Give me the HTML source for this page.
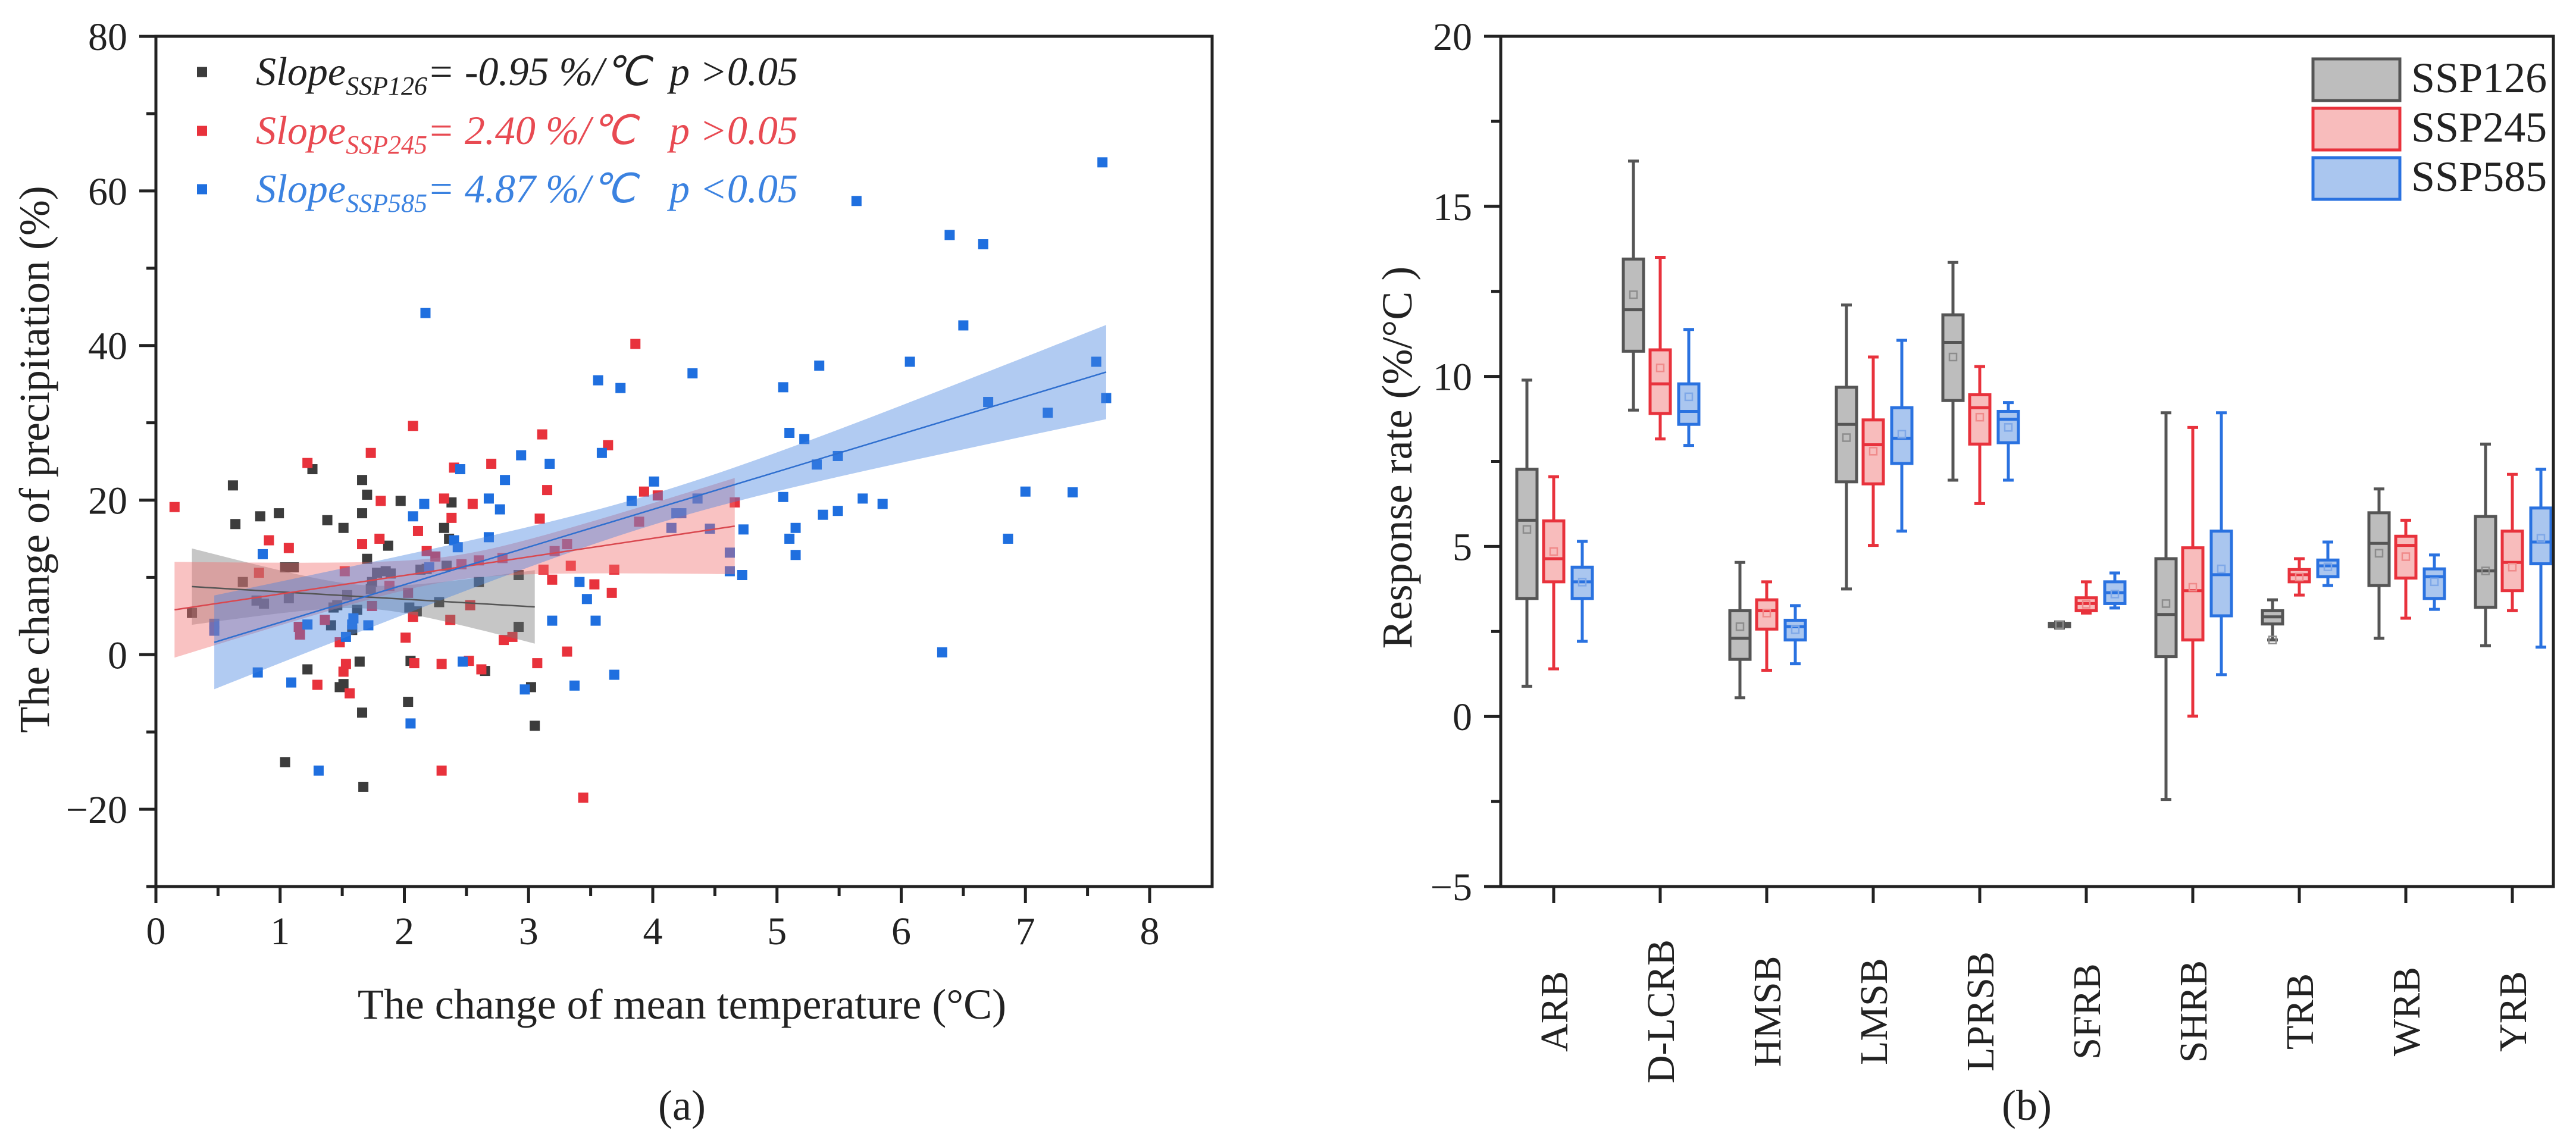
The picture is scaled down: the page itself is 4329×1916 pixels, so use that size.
<!DOCTYPE html>
<html><head><meta charset="utf-8"><style>
html,body{margin:0;padding:0;background:#fff;}
svg{display:block;font-family:"Liberation Serif",serif;}
</style></head><body>
<svg id="fig" width="4329" height="1916" viewBox="0 0 4329 1916" xmlns="http://www.w3.org/2000/svg">
<g id="pa"></g>
<g id="pb"></g>
</svg>
<script>
// ---------- Panel (a) data ----------
const ssp126X=[0.29,0.62,0.64,0.70,0.81,0.84,0.87,0.99,1.04,1.04,1.07,1.11,1.26,1.22,1.38,1.41,1.43,1.46,1.48,1.51,1.51,1.54,1.58,1.62,1.64,1.66,1.66,1.66,1.70,1.70,1.67,1.73,1.74,1.78,1.85,1.87,1.89,1.97,2.03,2.04,2.05,2.10,2.13,2.18,2.28,2.32,2.34,2.36,2.38,2.60,2.65,2.92,2.92,3.02,3.05];
const ssp126Y=[5.4,21.9,16.9,9.4,7.0,17.9,6.6,18.3,11.3,-13.9,7.3,11.3,24.0,-1.9,17.4,3.8,6.1,6.4,-4.2,16.4,-3.8,7.7,3.2,5.8,-0.9,-7.5,22.6,18.3,12.4,20.7,-17.1,8.5,9.4,10.6,10.8,14.1,10.5,19.9,-6.1,6.1,-0.8,5.6,11.0,11.1,6.8,16.4,11.5,15.0,19.7,9.4,-2.1,10.3,3.6,-4.2,-9.2];
const ssp245X=[0.15,0.83,0.91,1.07,1.15,1.16,1.22,1.30,1.36,1.48,1.51,1.53,1.56,1.52,1.66,1.73,1.74,1.80,1.81,1.88,2.01,2.07,2.07,2.08,2.11,2.18,2.25,2.30,2.30,2.32,2.37,2.38,2.40,2.46,2.52,2.53,2.55,2.60,2.62,2.70,2.79,2.80,2.87,3.07,3.09,3.11,3.12,3.15,3.19,3.21,3.31,3.31,3.34,3.44,3.53,3.64,3.67,3.69,3.86,3.89,3.93,4.04,4.66,2.03];
const ssp245Y=[19.1,10.6,14.8,13.8,3.6,2.6,24.8,-3.9,4.5,1.6,-2.2,-1.2,-5.0,10.8,14.3,26.1,6.3,15.0,19.9,8.9,2.2,29.6,4.9,-1.1,16.0,13.4,12.7,-15.0,-1.2,20.2,4.5,17.7,24.2,11.7,-0.8,6.4,19.5,12.2,-1.9,24.7,12.5,1.9,2.3,-1.1,17.6,28.5,11.0,21.3,9.7,13.4,14.3,0.4,11.5,-18.5,9.1,27.1,8.0,11.0,40.2,17.2,21.1,20.6,19.7,8.0];
const ssp585X=[0.47,0.47,0.82,0.86,1.09,1.22,1.31,1.53,1.58,1.59,1.71,2.05,2.07,2.16,2.17,2.20,2.40,2.43,2.45,2.47,2.68,2.68,2.77,2.81,2.94,2.97,3.17,3.19,3.37,3.41,3.47,3.54,3.56,3.59,3.69,3.74,3.83,4.01,4.15,4.19,4.23,4.32,4.36,4.46,4.62,4.62,4.72,4.73,5.05,5.05,5.10,5.10,5.15,5.15,5.22,5.32,5.34,5.37,5.49,5.49,5.64,5.69,5.85,6.07,6.33,6.39,6.50,6.66,6.70,6.86,7.00,7.18,7.38,7.57,7.62,7.65];
const ssp585Y=[4.0,3.1,-2.3,13.0,-3.6,3.9,-15.0,2.3,3.9,4.7,3.8,-8.9,17.9,19.5,44.2,11.3,14.8,13.9,24.0,-0.9,20.2,15.2,18.8,22.6,25.8,-4.5,24.7,4.4,-4.0,9.4,7.2,4.4,35.5,26.1,-2.6,34.5,19.9,22.4,16.4,18.3,18.3,36.4,20.2,16.3,13.2,10.8,10.3,16.2,20.4,34.6,28.7,15.0,16.4,12.9,27.9,24.6,37.4,18.1,18.6,25.7,58.7,20.2,19.5,37.9,0.3,54.3,42.6,53.1,32.7,15.0,21.1,31.3,21.0,37.9,63.7,33.2];
// regression: [xmin, xmax, slope, intercept, xbar, minHalfWidth, spreadK]
const fit126=[0.29,3.05,-0.95,9.08,1.70,1.5,3.34];
const fit245=[0.15,4.66,2.40,5.45,2.40,1.6,2.66];
const fit585=[0.47,7.65,4.87,-0.69,4.05,2.0,1.60];
const xTicksA=[0,1,2,3,4,5,6,7,8];
const yTicksA=[-20,0,20,40,60,80];

// ---------- Panel (b) data ----------
const basins=["ARB","D-LCRB","HMSB","LMSB","LPRSB","SFRB","SHRB","TRB","WRB","YRB"];
// [whiskerMin, Q1, median, Q3, whiskerMax, mean]
const box126=[[0.89,3.47,5.77,7.27,9.89,5.5],[9.01,10.74,11.96,13.45,16.33,12.4],[0.55,1.68,2.30,3.11,4.53,2.64],[3.75,6.90,8.59,9.68,12.1,8.2],[6.95,9.29,11.0,11.81,13.35,10.57],[2.60,2.64,2.68,2.74,2.78,2.70],[-2.44,1.76,3.0,4.64,8.93,3.32],[2.25,2.72,2.93,3.11,3.43,2.25],[2.30,3.85,5.09,5.99,6.69,4.8],[2.08,3.21,4.28,5.88,8.01,4.28]];
const box245=[[1.40,3.96,4.64,5.75,7.05,4.85],[8.16,8.91,9.78,10.78,13.5,10.25],[1.36,2.57,3.11,3.43,3.96,3.04],[5.03,6.84,7.99,8.72,10.57,7.8],[6.26,8.01,9.08,9.46,10.29,8.8],[3.04,3.11,3.32,3.49,3.96,3.3],[0.01,2.25,3.70,4.96,8.5,3.8],[3.57,3.96,4.17,4.32,4.64,4.1],[2.89,4.07,5.03,5.30,5.77,4.7],[3.11,3.70,4.53,5.45,7.12,4.39]];
const box585=[[2.21,3.47,3.96,4.39,5.15,3.95],[7.97,8.59,8.97,9.78,11.38,9.4],[1.55,2.25,2.64,2.83,3.26,2.55],[5.45,7.44,8.18,9.08,11.06,8.3],[6.95,8.05,8.74,8.97,9.23,8.5],[3.19,3.32,3.64,3.96,4.22,3.6],[1.23,2.96,4.17,5.45,8.93,4.34],[3.85,4.11,4.43,4.60,5.13,4.4],[3.15,3.47,4.11,4.34,4.75,3.96],[2.04,4.49,5.13,6.13,7.27,5.24]];
const yTicksB=[-5,0,5,10,15,20];
const seriesNames=["SSP126","SSP245","SSP585"];

const NS="http://www.w3.org/2000/svg";
function mk(parent,tag,attrs,text){const e=document.createElementNS(NS,tag);for(const k in attrs)e.setAttribute(k,attrs[k]);if(text!==undefined)e.textContent=text;parent.appendChild(e);return e;}

// ===== Panel A =====
(function(){
const g=document.getElementById('pa');
const L=262,R=2037,T=61,B=1490;
const xS=v=>L+v*208.75;
const yS=v=>B-(v+30)*12.99;
const sets=[[ssp126X,ssp126Y,'#3c3c3c','ssp126'],[ssp245X,ssp245Y,'#e8323c','ssp245'],[ssp585X,ssp585Y,'#1f6fdf','ssp585']];
const pts=mk(g,'g',{});


sets.forEach(s=>{
  for(let i=0;i<s[0].length;i++){
    const r=mk(pts,'rect',{x:xS(s[0][i])-8.5,y:yS(s[1][i])-8.5,width:17,height:17,fill:s[2]});
    
    
  }
});
const fits=[[fit126,'rgba(120,120,120,0.42)','#555','ssp126'],[fit245,'rgba(240,110,110,0.42)','#d9484f','ssp245'],[fit585,'rgba(70,130,225,0.42)','#2f6fcf','ssp585']];
fits.forEach(f=>{
  const p=f[0];const up=[],lo=[];const N=60;
  for(let i=0;i<=N;i++){const x=p[0]+(p[1]-p[0])*i/N;const yv=p[2]*x+p[3];const h=Math.sqrt(p[5]*p[5]+p[6]*p[6]*(x-p[4])*(x-p[4]));up.push(xS(x)+','+yS(yv+h));lo.push(xS(x)+','+yS(yv-h));}
  const band=mk(g,'polygon',{points:up.concat(lo.reverse()).join(' '),fill:f[1],stroke:'none'});
  
  
});
fits.forEach(f=>{
  const p=f[0];
  const ln=mk(g,'line',{x1:xS(p[0]),y1:yS(p[2]*p[0]+p[3]),x2:xS(p[1]),y2:yS(p[2]*p[1]+p[3]),stroke:f[2],'stroke-width':2.5});
  
  
});
const fr=mk(g,'rect',{x:L,y:T,width:R-L,height:B-T,fill:'none',stroke:'#222','stroke-width':5});


for(let v=0;v<=8.01;v+=0.5){const maj=Math.abs(v-Math.round(v))<1e-6;mk(g,'line',{x1:xS(v),y1:B,x2:xS(v),y2:B+(maj?28:16),stroke:'#222','stroke-width':5});}
xTicksA.forEach(v=>{const t=mk(g,'text',{x:xS(v),y:1587,'font-size':66,'text-anchor':'middle',fill:'#222'},String(v));});
for(let v=-30;v<=80;v+=10){const maj=(v%20===0);mk(g,'line',{x1:L,y1:yS(v),x2:L-(maj?28:16),y2:yS(v),stroke:'#222','stroke-width':5});}
yTicksA.forEach(v=>{const t=mk(g,'text',{x:214,y:yS(v)+23,'font-size':66,'text-anchor':'end',fill:'#222'},v<0?'\u2212'+(-v):String(v));});
const xt=mk(g,'text',{x:1146,y:1712,'font-size':72,'text-anchor':'middle',fill:'#222'},'The change of mean temperature (\u00B0C)');

const yt=mk(g,'text',{x:0,y:0,'font-size':72,'text-anchor':'middle',fill:'#222',transform:'translate(82,772) rotate(-90)'},'The change of precipitation (%)');

const la=mk(g,'text',{x:1146,y:1882,'font-size':72,'text-anchor':'middle',fill:'#222'},'(a)');

const leg=[['SSP126','= -0.95 %/\u2103','p >0.05','#3c3c3c','#222',121],['SSP245','= 2.40 %/\u2103','p >0.05','#e8323c','#e84a52',220],['SSP585','= 4.87 %/\u2103','p <0.05','#1f6fdf','#3b82e0',318]];
leg.forEach(r=>{
  const e=mk(g,'g',{});
  
  
  mk(e,'rect',{x:331,y:r[5]-8.5,width:17,height:17,fill:r[3]});
  const t=mk(e,'text',{x:430,y:r[5]+22,'font-size':68,'font-style':'italic',fill:r[4]});
  mk(t,'tspan',{},'Slope');
  mk(t,'tspan',{'font-size':44,dy:16},r[0]);
  mk(t,'tspan',{dy:-16},r[1]);
  mk(e,'text',{x:1125,y:r[5]+22,'font-size':68,'font-style':'italic',fill:r[4]},r[2]);
});
})();

// ===== Panel B =====
(function(){
const g=document.getElementById('pb');
const L=2522,R=4291,T=61,B=1490;
const yS=v=>B-(v+5)*57.16;
const xC=i=>2611+i*179;
const offs=[-45,0,48];
const styles=[['#bdbdbd','#555','#8c8c8c'],['#f8bcbc','#e8323c','#f08a8a'],['#aac6ef','#2a72e0','#7fa8e8']];
const data=[box126,box245,box585];
data.forEach((ser,s)=>{
  ser.forEach((d,i)=>{
    const cx=xC(i)+offs[s],w=34;
    const st=styles[s];
    const bg=mk(g,'g',{});
    
    
    mk(bg,'line',{x1:cx,y1:yS(d[0]),x2:cx,y2:yS(d[1]),stroke:st[1],'stroke-width':5});
    mk(bg,'line',{x1:cx,y1:yS(d[3]),x2:cx,y2:yS(d[4]),stroke:st[1],'stroke-width':5});
    mk(bg,'line',{x1:cx-9,y1:yS(d[0]),x2:cx+9,y2:yS(d[0]),stroke:st[1],'stroke-width':5});
    mk(bg,'line',{x1:cx-9,y1:yS(d[4]),x2:cx+9,y2:yS(d[4]),stroke:st[1],'stroke-width':5});
    mk(bg,'rect',{x:cx-w/2,y:yS(d[3]),width:w,height:Math.max(2,yS(d[1])-yS(d[3])),fill:st[0],stroke:st[1],'stroke-width':5});
    mk(bg,'line',{x1:cx-w/2,y1:yS(d[2]),x2:cx+w/2,y2:yS(d[2]),stroke:st[1],'stroke-width':5});
    mk(bg,'rect',{x:cx-6,y:yS(d[5])-6,width:12,height:12,fill:'none',stroke:st[2],'stroke-width':2.5});
  });
});
const fr=mk(g,'rect',{x:L,y:T,width:R-L,height:B-T,fill:'none',stroke:'#222','stroke-width':5});


for(let v=-5;v<=20;v+=2.5){const maj=(v%5===0);mk(g,'line',{x1:L,y1:yS(v),x2:L-(maj?28:16),y2:yS(v),stroke:'#222','stroke-width':5});}
yTicksB.forEach(v=>{const t=mk(g,'text',{x:2474,y:yS(v)+23,'font-size':66,'text-anchor':'end',fill:'#222'},v<0?'\u2212'+(-v):String(v));});
basins.forEach((b,i)=>{
  mk(g,'line',{x1:xC(i),y1:B,x2:xC(i),y2:B+28,stroke:'#222','stroke-width':5});
  const t=mk(g,'text',{x:0,y:0,'font-size':66,'text-anchor':'middle',fill:'#222',transform:'translate('+(xC(i)+23)+',1700) rotate(-90)'},b);
  
});
const yt=mk(g,'text',{x:0,y:0,'font-size':72,'text-anchor':'middle',fill:'#222',transform:'translate(2372,769) rotate(-90)'},'Response rate (%/\u00B0C )');

const lb=mk(g,'text',{x:3406,y:1882,'font-size':72,'text-anchor':'middle',fill:'#222'},'(b)');

const lgY=[97,180,263];
seriesNames.forEach((n,s)=>{
  const e=mk(g,'g',{});
  
  
  mk(e,'rect',{x:3887,y:lgY[s]+2,width:146,height:70,fill:styles[s][0],stroke:styles[s][1],'stroke-width':5});
  mk(e,'text',{x:4052,y:lgY[s]+58,'font-size':72,fill:'#222'},n);
});
})();
</script>
</body></html>
